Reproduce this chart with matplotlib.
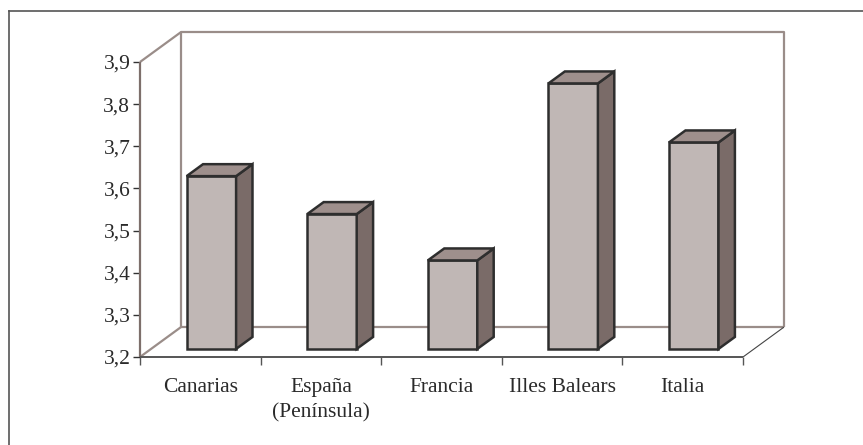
import matplotlib
matplotlib.use("Agg")
import matplotlib.pyplot as plt
from matplotlib.patches import Polygon
import numpy as np

# data
categorias = ["Canarias", "España\n(Península)", "Francia", "Illes Balears", "Italia"]
valores = [3.61, 3.52, 3.41, 3.83, 3.69]
y_ticks = [3.2, 3.3, 3.4, 3.5, 3.6, 3.7, 3.8, 3.9]

ymin, ymax = 3.2, 3.9
n = len(categorias)

# fake 3d geometry (in data units)
DX, DY = 0.34, 0.071      # depth of the floor
F1, F2 = 0.27, 0.67       # front / back of the bars as fraction of depth
ANCHO = 0.41              # bar width

wall = "#9a8d89"
front_c = "#c0b7b5"
side_c = "#7a6b68"
top_c = "#9e8f8c"
edge_c = "#2e2e2e"

plt.rcParams["font.family"] = ["Liberation Serif", "DejaVu Serif"]

fig = plt.figure(figsize=(8.63, 4.45), dpi=100)
ax = fig.add_axes([140 / 863, 88 / 445, 603 / 863, 295 / 445])
ax.set_xlim(0, n)
ax.set_ylim(ymin, ymax)
for s in ax.spines.values():
    s.set_visible(False)
ax.patch.set_visible(False)

# border of the whole chart area (only left and top are visible)
fig.add_artist(plt.Line2D([9 / 863, 9 / 863], [0, 1 - 11 / 445], transform=fig.transFigure,
                          color="#555555", lw=1.2))
fig.add_artist(plt.Line2D([9 / 863, 1], [1 - 11 / 445, 1 - 11 / 445], transform=fig.transFigure,
                          color="#555555", lw=1.2))

kw = dict(clip_on=False, solid_capstyle="butt")
# back wall
ax.plot([DX, DX, n + DX, n + DX], [ymin + DY, ymax + DY, ymax + DY, ymin + DY], color=wall, lw=1.6, **kw)
ax.plot([DX, n + DX], [ymin + DY, ymin + DY], color=wall, lw=1.6, **kw)
# left wall diagonals and axis line
ax.plot([0, DX], [ymax, ymax + DY], color=wall, lw=1.6, **kw)
ax.plot([0, DX], [ymin, ymin + DY], color=wall, lw=1.6, **kw)
ax.plot([0, 0], [ymin, ymax], color="#7d6f6b", lw=1.6, **kw)
# floor front edge and right diagonal
ax.plot([n, n + DX], [ymin, ymin + DY], color="#444444", lw=0.8, **kw)
ax.plot([0, n], [ymin, ymin], color="#555555", lw=1.4, **kw)

# bars
for i, v in enumerate(valores):
    x0 = i + 0.5 - ANCHO / 2 + F1 * DX
    b0 = ymin + F1 * DY
    t0 = v + F1 * DY
    ddx = (F2 - F1) * DX
    ddy = (F2 - F1) * DY
    x1 = x0 + ANCHO
    frente = Polygon([(x0, b0), (x1, b0), (x1, t0), (x0, t0)], closed=True,
                     facecolor=front_c, edgecolor=edge_c, lw=1.8, joinstyle="miter", zorder=3)
    lado = Polygon([(x1, b0), (x1 + ddx, b0 + ddy), (x1 + ddx, t0 + ddy), (x1, t0)], closed=True,
                   facecolor=side_c, edgecolor=edge_c, lw=1.8, joinstyle="miter", zorder=3)
    tapa = Polygon([(x0, t0), (x1, t0), (x1 + ddx, t0 + ddy), (x0 + ddx, t0 + ddy)], closed=True,
                   facecolor=top_c, edgecolor=edge_c, lw=1.8, joinstyle="miter", zorder=3)
    for p in (frente, lado, tapa):
        p.set_clip_on(False)
        ax.add_patch(p)

# ticks
ax.set_yticks(y_ticks)
ax.set_yticklabels([f"{t:.1f}".replace(".", ",") for t in y_ticks])
ax.tick_params(axis="y", length=5, width=1, color="#333333", pad=2, labelsize=15.5, labelcolor="#2a2a2a")
ax.set_xticks(np.arange(n + 1))
ax.set_xticklabels([])
ax.set_xticks(np.arange(n) + 0.5, minor=True)
ax.set_xticklabels(categorias, minor=True)
ax.tick_params(axis="x", which="major", length=6, width=1, color="#555555", direction="out")
ax.tick_params(axis="x", which="minor", length=0, pad=15, labelsize=15.5, labelcolor="#2a2a2a")
for lab in ax.get_xticklabels(minor=True):
    lab.set_linespacing(1.45)

fig.savefig("out.png", dpi=100)
